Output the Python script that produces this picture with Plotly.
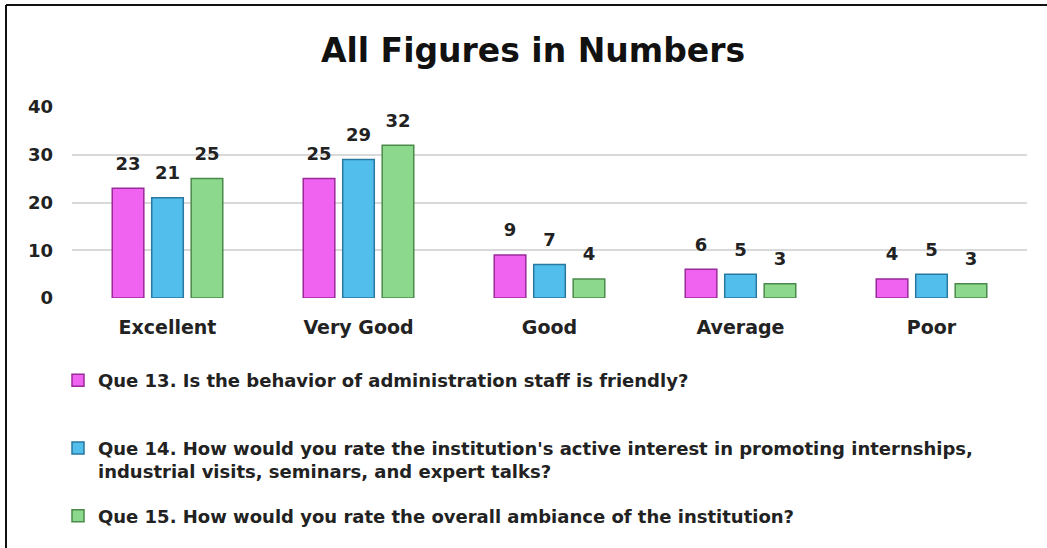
import plotly.graph_objects as go

categories = ["Excellent", "Very Good", "Good", "Average", "Poor"]
q13 = [23, 25, 9, 6, 4]
q14 = [21, 29, 7, 5, 5]
q15 = [25, 32, 4, 3, 3]
series_names = [
    "Que 13. Is the behavior of administration staff is friendly?<br> ",
    "Que 14. How would you rate the institution's active interest in promoting internships,<br>industrial visits, seminars, and expert talks?",
    "Que 15. How would you rate the overall ambiance of the institution?",
]
y_ticks = [0, 10, 20, 30, 40]

fills = ["#F062F0", "#52BEEC", "#8CD88C"]
edges = ["#9A2A9A", "#2878A0", "#4A8A4A"]
FONT = "DejaVu Sans"
GAP = 0.38

fig = go.Figure()
for i, (name, vals) in enumerate(zip(series_names, [q13, q14, q15])):
    fig.add_trace(go.Bar(
        x=categories, y=vals, name=name,
        legendgroup=f"g{i}", offsetgroup=f"s{i}",
        marker=dict(color=fills[i], line=dict(color=edges[i], width=1.5)),
        hoverinfo="x+y",
    ))
# value labels, grouped like the bars
for i, vals in enumerate([q13, q14, q15]):
    fig.add_trace(go.Scatter(
        x=categories, y=vals, mode="markers+text", text=[str(v) for v in vals],
        textposition="top center", offsetgroup=f"s{i}", showlegend=False,
        marker=dict(size=21, opacity=0), hoverinfo="skip", cliponaxis=False,
        textfont=dict(family=FONT, size=18, color="#222222", weight="bold"),
    ))

ML, MR, MT, MB = 72, 20, 107, 250
W, H = 1047, 548
pw, ph = W - ML - MR, H - MT - MB
px = lambda p: (p - ML) / pw
py = lambda p: (H - MB - p) / ph

fig.update_layout(
    width=W, height=H,
    margin=dict(l=ML, r=MR, t=MT, b=MB, autoexpand=False),
    paper_bgcolor="white", plot_bgcolor="white",
    barmode="group", bargap=GAP, bargroupgap=0.2,
    scattermode="group", scattergap=GAP,
    font=dict(family=FONT, color="#222222"),
    title=dict(text="<b>All Figures in Numbers</b>", x=533 / W, xref="container",
               y=1 - 50 / H, yref="container", xanchor="center", yanchor="middle",
               font=dict(family=FONT, size=33, color="#111111")),
    xaxis=dict(showgrid=False, showline=False, ticks="", ticklabelstandoff=16,
               tickfont=dict(family=FONT, size=19, color="#222222", weight="bold")),
    yaxis=dict(range=[0, 40], tickvals=y_ticks, showgrid=True, gridcolor="#D9D9D9",
               gridwidth=1.5, zeroline=False, showline=False, ticks="",
               ticklabelstandoff=18,
               tickfont=dict(family=FONT, size=18, color="#222222", weight="bold")),
    legend=dict(x=px(58), y=py(362), xanchor="left", yanchor="top",
                orientation="v", traceorder="grouped", tracegroupgap=18,
                valign="top", bgcolor="rgba(0,0,0,0)",
                font=dict(family=FONT, size=18, color="#222222", weight="bold")),
    showlegend=True,
    shapes=[
        dict(type="line", xref="paper", yref="paper", x0=px(6), x1=px(W), y0=py(5), y1=py(5),
             line=dict(color="#111111", width=2)),
        dict(type="line", xref="paper", yref="paper", x0=px(6), x1=px(6), y0=py(5), y1=py(H),
             line=dict(color="#111111", width=2)),
    ],
)

fig.write_html("out.html", config={"displayModeBar": False},
               post_script="document.body.style.margin='0';")
